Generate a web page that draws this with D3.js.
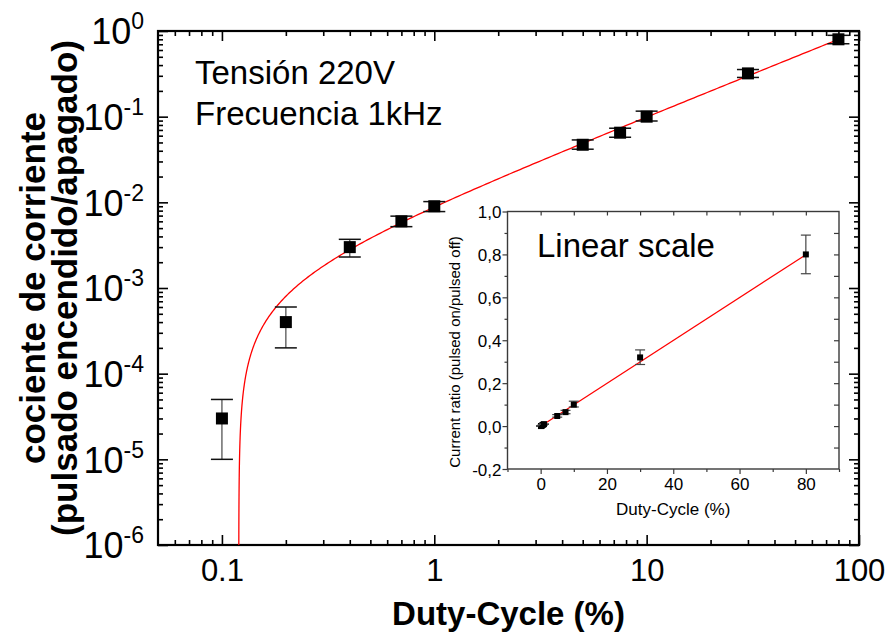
<!DOCTYPE html>
<html>
<head>
<meta charset="utf-8">
<script src="https://cdn.jsdelivr.net/npm/d3@7"></script>
<style>
  body { margin: 0; background: #fff; }
  svg { display: block; }
  text { font-family: "Liberation Sans", Arial, Helvetica, sans-serif; fill: #000; }
</style>
</head>
<body>
<svg id="chart" width="890" height="639"></svg>
<script>
// Measured current ratio (pulsed on / pulsed off) versus duty cycle
const duty      = [0.1, 0.2, 0.4, 0.7, 1, 5, 7.5, 10, 30, 80];
const ratio     = [3e-5, 4e-4, 3.0e-3, 6.0e-3, 9.0e-3, 0.047, 0.065, 0.10, 0.32, 0.80];
const ratioLow  = [1e-5, 2e-4, 2.3e-3, 5.2e-3, 7.8e-3, 0.0417, 0.0575, 0.089, 0.287, 0.71];
const ratioHigh = [5e-5, 6e-4, 3.7e-3, 6.9e-3, 1.02e-2, 0.0535, 0.0733, 0.116, 0.355, 0.89];

// Linear fit: ratio = fitSlope * (duty - fitOffset)
const fitSlope = 0.01;
const fitOffset = 0.12;
const fitEnd = 80;

// Axis ticks
const xMainTicks = [0.1, 1, 10, 100];
const xMainLabels = ["0.1", "1", "10", "100"];
const yMainExponents = [0, -1, -2, -3, -4, -5, -6];
const xInsetTicks = [0, 20, 40, 60, 80];
const xInsetMinor = [-10, 10, 30, 50, 70, 90];
const yInsetTicks = [-0.2, 0, 0.2, 0.4, 0.6, 0.8, 1.0];
const yInsetMinor = [-0.1, 0.1, 0.3, 0.5, 0.7, 0.9];

const FONT = '"Liberation Sans", Arial, Helvetica, sans-serif';
const svg = d3.select("#chart");

// ---------- main log-log panel ----------
const M = { left: 158, right: 859, top: 31, bottom: 545 };
const x = d3.scaleLog().domain([0.05, 100]).range([M.left, M.right]);
const y = d3.scaleLog().domain([1e-6, 1]).range([M.bottom, M.top]);

const isDecade = v => Math.abs(Math.log10(v) - Math.round(Math.log10(v))) < 1e-9;
const xMinor = x.ticks().filter(v => !isDecade(v) && v > 0.05);
const yMinor = y.ticks().filter(v => !isDecade(v));

function styleAxis(g, color, width) {
  g.select(".domain").remove();
  g.selectAll(".tick line").attr("stroke", color).attr("stroke-width", width);
}

const mainAxes = svg.append("g");
// bottom
mainAxes.append("g").attr("transform", `translate(0,${M.bottom})`)
  .call(d3.axisBottom(x).tickValues(xMainTicks).tickSizeInner(-10).tickSizeOuter(0)
        .tickPadding(14).tickFormat((d, i) => xMainLabels[i]))
  .call(g => { styleAxis(g, "#000", 1.6);
    g.selectAll(".tick text").attr("font-size", 31).attr("dy", "0.71em")
      .style("font-family", FONT); });
mainAxes.append("g").attr("transform", `translate(0,${M.bottom})`)
  .call(d3.axisBottom(x).tickValues(xMinor).tickSizeInner(-5).tickSizeOuter(0).tickFormat(""))
  .call(g => styleAxis(g, "#000", 1.6));
// top
mainAxes.append("g").attr("transform", `translate(0,${M.top})`)
  .call(d3.axisTop(x).tickValues(xMainTicks).tickSizeInner(-10).tickSizeOuter(0).tickFormat(""))
  .call(g => styleAxis(g, "#000", 1.6));
mainAxes.append("g").attr("transform", `translate(0,${M.top})`)
  .call(d3.axisTop(x).tickValues(xMinor).tickSizeInner(-5).tickSizeOuter(0).tickFormat(""))
  .call(g => styleAxis(g, "#000", 1.6));
// left, labels written as powers of ten
const yMajorVals = yMainExponents.map(e => Math.pow(10, e));
mainAxes.append("g").attr("transform", `translate(${M.left},0)`)
  .call(d3.axisLeft(y).tickValues(yMajorVals).tickSizeInner(-10).tickSizeOuter(0)
        .tickPadding(14).tickFormat(""))
  .call(g => { styleAxis(g, "#000", 1.6);
    g.selectAll(".tick text").each(function(d, i) {
      const t = d3.select(this).attr("font-size", 36).attr("dy", "0.36em")
        .style("font-family", FONT);
      t.append("tspan").text("10");
      t.append("tspan").attr("font-size", 23).attr("dy", -15).text(yMainExponents[i]);
    }); });
mainAxes.append("g").attr("transform", `translate(${M.left},0)`)
  .call(d3.axisLeft(y).tickValues(yMinor).tickSizeInner(-5).tickSizeOuter(0).tickFormat(""))
  .call(g => styleAxis(g, "#000", 1.6));
// right
mainAxes.append("g").attr("transform", `translate(${M.right},0)`)
  .call(d3.axisRight(y).tickValues(yMajorVals).tickSizeInner(-10).tickSizeOuter(0).tickFormat(""))
  .call(g => styleAxis(g, "#000", 1.6));
mainAxes.append("g").attr("transform", `translate(${M.right},0)`)
  .call(d3.axisRight(y).tickValues(yMinor).tickSizeInner(-5).tickSizeOuter(0).tickFormat(""))
  .call(g => styleAxis(g, "#000", 1.6));

// frame
svg.append("rect").attr("x", M.left).attr("y", M.top)
  .attr("width", M.right - M.left).attr("height", M.bottom - M.top)
  .attr("fill", "none").attr("stroke", "#000").attr("stroke-width", 2.2);

// clip for the fit curve
svg.append("clipPath").attr("id", "mainClip").append("rect")
  .attr("x", M.left).attr("y", M.top).attr("width", M.right - M.left).attr("height", M.bottom - M.top);

// fit curve on log axes (sampled in log of distance from the offset)
const fitPts = d3.range(0, 401).map(i => {
  const d = Math.pow(10, -4.3 + i * (Math.log10(fitEnd - fitOffset) + 4.3) / 400);
  return [fitOffset + d, fitSlope * d];
});
svg.append("path").attr("clip-path", "url(#mainClip)")
  .attr("d", d3.line().x(p => x(p[0])).y(p => y(p[1]))(fitPts))
  .attr("fill", "none").attr("stroke", "#ff0000").attr("stroke-width", 1.3);

// error bars + markers
const mainPts = svg.append("g");
duty.forEach((d, i) => {
  const cx = x(d);
  mainPts.append("line").attr("x1", cx).attr("x2", cx)
    .attr("y1", y(ratioLow[i])).attr("y2", y(ratioHigh[i]))
    .attr("stroke", "#555").attr("stroke-width", 1.3);
  [ratioLow[i], ratioHigh[i]].forEach(v => {
    mainPts.append("line").attr("x1", cx - 11).attr("x2", cx + 11)
      .attr("y1", y(v)).attr("y2", y(v)).attr("stroke", "#111").attr("stroke-width", 1.5);
  });
  mainPts.append("rect").attr("x", cx - 6).attr("y", y(ratio[i]) - 6)
    .attr("width", 12).attr("height", 12).attr("fill", "#000");
});

// axis titles
svg.append("text").attr("x", (M.left + M.right) / 2).attr("y", 625)
  .attr("text-anchor", "middle").attr("font-size", 33).attr("font-weight", "bold")
  .text("Duty-Cycle (%)");
const yTitle = svg.append("g").attr("transform", `translate(0,${(M.top + M.bottom) / 2}) rotate(-90)`);
yTitle.append("text").attr("x", 0).attr("y", 45).attr("text-anchor", "middle")
  .attr("font-size", 35).attr("font-weight", "bold").text("cociente de corriente");
yTitle.append("text").attr("x", 0).attr("y", 77).attr("text-anchor", "middle")
  .attr("font-size", 35).attr("font-weight", "bold").text("(pulsado encendido/apagado)");

// annotations
svg.append("text").attr("x", 195).attr("y", 84).attr("font-size", 33).text("Tensión 220V");
svg.append("text").attr("x", 195).attr("y", 125).attr("font-size", 33).text("Frecuencia 1kHz");

// ---------- inset: linear scale ----------
const I = { left: 507.5, right: 839, top: 211.5, bottom: 469 };
const xi = d3.scaleLinear().domain([-10, 90]).range([I.left, I.right]);
const yi = d3.scaleLinear().domain([-0.2, 1.0]).range([I.bottom, I.top]);
const insetColor = "#3a3a3a";
const fmtComma = v => d3.format(".1f")(v).replace(".", ",").replace("−", "-");

svg.append("rect").attr("x", I.left).attr("y", I.top)
  .attr("width", I.right - I.left).attr("height", I.bottom - I.top).attr("fill", "#fff");

const ins = svg.append("g");
ins.append("g").attr("transform", `translate(0,${I.bottom})`)
  .call(d3.axisBottom(xi).tickValues(xInsetTicks).tickSizeInner(5).tickSizeOuter(0).tickPadding(4))
  .call(g => { styleAxis(g, insetColor, 1.2);
    g.selectAll(".tick text").attr("font-size", 17).style("font-family", FONT); });
ins.append("g").attr("transform", `translate(0,${I.bottom})`)
  .call(d3.axisBottom(xi).tickValues(xInsetMinor).tickSizeInner(3).tickSizeOuter(0).tickFormat(""))
  .call(g => styleAxis(g, insetColor, 1.2));
ins.append("g").attr("transform", `translate(${I.left},0)`)
  .call(d3.axisLeft(yi).tickValues(yInsetTicks).tickSizeInner(5).tickSizeOuter(0).tickPadding(1)
        .tickFormat(fmtComma))
  .call(g => { styleAxis(g, insetColor, 1.2);
    g.selectAll(".tick text").attr("font-size", 17).attr("dy", "0.36em").style("font-family", FONT); });
ins.append("g").attr("transform", `translate(${I.left},0)`)
  .call(d3.axisLeft(yi).tickValues(yInsetMinor).tickSizeInner(3).tickSizeOuter(0).tickFormat(""))
  .call(g => styleAxis(g, insetColor, 1.2));
ins.append("g").attr("transform", `translate(0,${I.top})`)
  .call(d3.axisTop(xi).tickValues(xInsetTicks.concat(xInsetMinor).filter(v => v > -10 && v < 90))
        .tickSizeInner(-4).tickSizeOuter(0).tickFormat(""))
  .call(g => styleAxis(g, insetColor, 1.2));
ins.append("g").attr("transform", `translate(${I.right},0)`)
  .call(d3.axisRight(yi).tickValues(yInsetTicks.concat(yInsetMinor).filter(v => v > -0.2 && v < 1.0))
        .tickSizeInner(-5).tickSizeOuter(0).tickFormat(""))
  .call(g => styleAxis(g, insetColor, 1.2));

ins.append("rect").attr("x", I.left).attr("y", I.top)
  .attr("width", I.right - I.left).attr("height", I.bottom - I.top)
  .attr("fill", "none").attr("stroke", insetColor).attr("stroke-width", 1.4);

// inset fit line
ins.append("path")
  .attr("d", d3.line().x(p => xi(p[0])).y(p => yi(p[1]))([[fitOffset, 0], [fitEnd, fitSlope * (fitEnd - fitOffset)]]))
  .attr("fill", "none").attr("stroke", "#ff0000").attr("stroke-width", 1.2);

// inset error bars + markers
duty.forEach((d, i) => {
  const cx = xi(d);
  ins.append("line").attr("x1", cx).attr("x2", cx)
    .attr("y1", yi(ratioLow[i])).attr("y2", yi(ratioHigh[i]))
    .attr("stroke", "#444").attr("stroke-width", 1.2);
  [ratioLow[i], ratioHigh[i]].forEach(v => {
    ins.append("line").attr("x1", cx - 5).attr("x2", cx + 5)
      .attr("y1", yi(v)).attr("y2", yi(v)).attr("stroke", "#444").attr("stroke-width", 1.2);
  });
  ins.append("rect").attr("x", cx - 3).attr("y", yi(ratio[i]) - 3)
    .attr("width", 6).attr("height", 6).attr("fill", "#000");
});

// inset titles
ins.append("text").attr("x", (I.left + I.right) / 2).attr("y", 515)
  .attr("text-anchor", "middle").attr("font-size", 17).text("Duty-Cycle (%)");
ins.append("text").attr("transform", `translate(460,352) rotate(-90)`)
  .attr("text-anchor", "middle").attr("font-size", 15).text("Current ratio (pulsed on/pulsed off)");
ins.append("text").attr("x", 537).attr("y", 257).attr("font-size", 33).text("Linear scale");
</script>
</body>
</html>
